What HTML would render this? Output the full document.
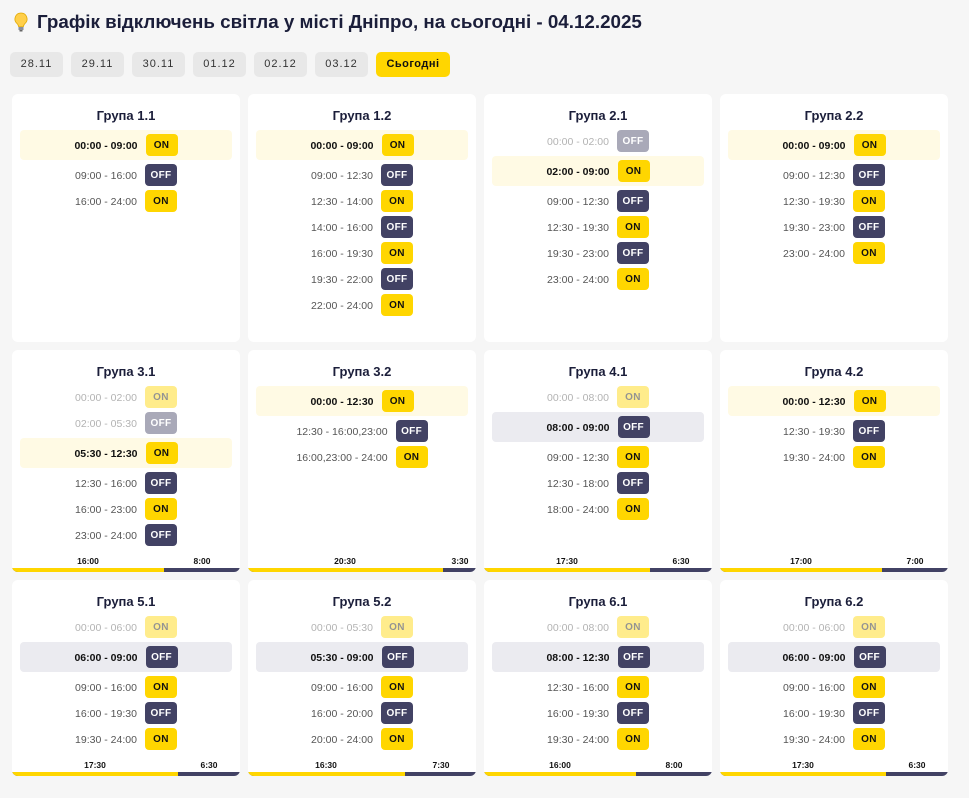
<!DOCTYPE html>
<html><head><meta charset="utf-8">
<style>
*{box-sizing:border-box;margin:0;padding:0}
body{width:969px;height:798px;background:#f6f6f6;font-family:"Liberation Sans",sans-serif;position:relative;overflow:hidden}
h1{position:absolute;left:37px;top:11px;font-size:18.8px;font-weight:bold;color:#1b1e3a;white-space:nowrap}
.bulb{position:absolute;left:14px;top:12px}
.dates{position:absolute;left:10px;top:52px;display:flex;gap:8px}
.dates div{height:25px;line-height:25px;background:#e8e8e8;border-radius:5px;font-size:11px;letter-spacing:1px;color:#333;width:53px;text-align:center}
.dates div.act{background:#ffd600;font-weight:bold;color:#111;width:74px;letter-spacing:.5px}
.card{position:absolute;width:228px;background:#fff;border-radius:6px;overflow:hidden}
.t{position:absolute;top:14px;left:0;right:0;text-align:center;font-size:13px;font-weight:bold;color:#1b1e3a}
.rows{position:absolute;top:34px;left:8px;right:8px}
.r{height:26px;display:flex;align-items:center;justify-content:center;gap:8px;font-size:10.5px;color:#555;padding-top:1px}
.h{height:30px;margin:2px 0;border-radius:4px;background:#fffae4;font-weight:bold;color:#111}
.h.g{background:#ebebf0}
.f{opacity:.45}
.b{width:32px;height:22px;border-radius:4px;display:flex;align-items:center;justify-content:center;font-size:10px;font-weight:bold;letter-spacing:.3px;margin-top:-1px}
.on{background:#ffd600;color:#111}
.off{background:#424264;color:#fff}
.bar{position:absolute;left:0;right:0;bottom:0;height:4px;background:#424264}
.bar i{display:block;height:4px;background:#ffd600}
.lb{position:absolute;bottom:6px;font-size:8.5px;font-weight:bold;color:#111;transform:translateX(-50%)}
</style></head><body>
<svg class="bulb" width="14" height="20" viewBox="0 0 14 20"><path d="M7 1a6 6 0 0 0-4 10.5c1 1 1.5 2 1.5 3h5c0-1 .5-2 1.5-3A6 6 0 0 0 7 1z" fill="#ffcf4a" stroke="#e0a800" stroke-width=".8"/><rect x="4.5" y="15" width="5" height="3" fill="#8a8f9c"/><rect x="5.5" y="18" width="3" height="1.5" fill="#666"/></svg>
<h1>Графік відключень світла у місті Дніпро, на сьогодні - 04.12.2025</h1>
<div class="dates"><div>28.11</div><div>29.11</div><div>30.11</div><div>01.12</div><div>02.12</div><div>03.12</div><div class="act">Сьогодні</div></div>

<div class="card" style="left:12px;top:94px;height:248px"><div class="t">Група 1.1</div><div class="rows">
<div class="r h">00:00 - 09:00<span class="b on">ON</span></div>
<div class="r">09:00 - 16:00<span class="b off">OFF</span></div>
<div class="r">16:00 - 24:00<span class="b on">ON</span></div></div></div>

<div class="card" style="left:248px;top:94px;height:248px"><div class="t">Група 1.2</div><div class="rows">
<div class="r h">00:00 - 09:00<span class="b on">ON</span></div>
<div class="r">09:00 - 12:30<span class="b off">OFF</span></div>
<div class="r">12:30 - 14:00<span class="b on">ON</span></div>
<div class="r">14:00 - 16:00<span class="b off">OFF</span></div>
<div class="r">16:00 - 19:30<span class="b on">ON</span></div>
<div class="r">19:30 - 22:00<span class="b off">OFF</span></div>
<div class="r">22:00 - 24:00<span class="b on">ON</span></div></div></div>

<div class="card" style="left:484px;top:94px;height:248px"><div class="t">Група 2.1</div><div class="rows">
<div class="r f">00:00 - 02:00<span class="b off">OFF</span></div>
<div class="r h">02:00 - 09:00<span class="b on">ON</span></div>
<div class="r">09:00 - 12:30<span class="b off">OFF</span></div>
<div class="r">12:30 - 19:30<span class="b on">ON</span></div>
<div class="r">19:30 - 23:00<span class="b off">OFF</span></div>
<div class="r">23:00 - 24:00<span class="b on">ON</span></div></div></div>

<div class="card" style="left:720px;top:94px;height:248px"><div class="t">Група 2.2</div><div class="rows">
<div class="r h">00:00 - 09:00<span class="b on">ON</span></div>
<div class="r">09:00 - 12:30<span class="b off">OFF</span></div>
<div class="r">12:30 - 19:30<span class="b on">ON</span></div>
<div class="r">19:30 - 23:00<span class="b off">OFF</span></div>
<div class="r">23:00 - 24:00<span class="b on">ON</span></div></div></div>

<div class="card" style="left:12px;top:350px;height:222px"><div class="t">Група 3.1</div><div class="rows">
<div class="r f">00:00 - 02:00<span class="b on">ON</span></div>
<div class="r f">02:00 - 05:30<span class="b off">OFF</span></div>
<div class="r h">05:30 - 12:30<span class="b on">ON</span></div>
<div class="r">12:30 - 16:00<span class="b off">OFF</span></div>
<div class="r">16:00 - 23:00<span class="b on">ON</span></div>
<div class="r">23:00 - 24:00<span class="b off">OFF</span></div></div>
<span class="lb" style="left:76px">16:00</span><span class="lb" style="left:190px">8:00</span><div class="bar"><i style="width:152px"></i></div></div>

<div class="card" style="left:248px;top:350px;height:222px"><div class="t">Група 3.2</div><div class="rows">
<div class="r h">00:00 - 12:30<span class="b on">ON</span></div>
<div class="r">12:30 - 16:00,23:00<span class="b off">OFF</span></div>
<div class="r">16:00,23:00 - 24:00<span class="b on">ON</span></div></div>
<span class="lb" style="left:97px">20:30</span><span class="lb" style="left:212px">3:30</span><div class="bar"><i style="width:195px"></i></div></div>

<div class="card" style="left:484px;top:350px;height:222px"><div class="t">Група 4.1</div><div class="rows">
<div class="r f">00:00 - 08:00<span class="b on">ON</span></div>
<div class="r h g">08:00 - 09:00<span class="b off">OFF</span></div>
<div class="r">09:00 - 12:30<span class="b on">ON</span></div>
<div class="r">12:30 - 18:00<span class="b off">OFF</span></div>
<div class="r">18:00 - 24:00<span class="b on">ON</span></div></div>
<span class="lb" style="left:83px">17:30</span><span class="lb" style="left:197px">6:30</span><div class="bar"><i style="width:166px"></i></div></div>

<div class="card" style="left:720px;top:350px;height:222px"><div class="t">Група 4.2</div><div class="rows">
<div class="r h">00:00 - 12:30<span class="b on">ON</span></div>
<div class="r">12:30 - 19:30<span class="b off">OFF</span></div>
<div class="r">19:30 - 24:00<span class="b on">ON</span></div></div>
<span class="lb" style="left:81px">17:00</span><span class="lb" style="left:195px">7:00</span><div class="bar"><i style="width:162px"></i></div></div>

<div class="card" style="left:12px;top:580px;height:196px"><div class="t">Група 5.1</div><div class="rows">
<div class="r f">00:00 - 06:00<span class="b on">ON</span></div>
<div class="r h g">06:00 - 09:00<span class="b off">OFF</span></div>
<div class="r">09:00 - 16:00<span class="b on">ON</span></div>
<div class="r">16:00 - 19:30<span class="b off">OFF</span></div>
<div class="r">19:30 - 24:00<span class="b on">ON</span></div></div>
<span class="lb" style="left:83px">17:30</span><span class="lb" style="left:197px">6:30</span><div class="bar"><i style="width:166px"></i></div></div>

<div class="card" style="left:248px;top:580px;height:196px"><div class="t">Група 5.2</div><div class="rows">
<div class="r f">00:00 - 05:30<span class="b on">ON</span></div>
<div class="r h g">05:30 - 09:00<span class="b off">OFF</span></div>
<div class="r">09:00 - 16:00<span class="b on">ON</span></div>
<div class="r">16:00 - 20:00<span class="b off">OFF</span></div>
<div class="r">20:00 - 24:00<span class="b on">ON</span></div></div>
<span class="lb" style="left:78px">16:30</span><span class="lb" style="left:193px">7:30</span><div class="bar"><i style="width:157px"></i></div></div>

<div class="card" style="left:484px;top:580px;height:196px"><div class="t">Група 6.1</div><div class="rows">
<div class="r f">00:00 - 08:00<span class="b on">ON</span></div>
<div class="r h g">08:00 - 12:30<span class="b off">OFF</span></div>
<div class="r">12:30 - 16:00<span class="b on">ON</span></div>
<div class="r">16:00 - 19:30<span class="b off">OFF</span></div>
<div class="r">19:30 - 24:00<span class="b on">ON</span></div></div>
<span class="lb" style="left:76px">16:00</span><span class="lb" style="left:190px">8:00</span><div class="bar"><i style="width:152px"></i></div></div>

<div class="card" style="left:720px;top:580px;height:196px"><div class="t">Група 6.2</div><div class="rows">
<div class="r f">00:00 - 06:00<span class="b on">ON</span></div>
<div class="r h g">06:00 - 09:00<span class="b off">OFF</span></div>
<div class="r">09:00 - 16:00<span class="b on">ON</span></div>
<div class="r">16:00 - 19:30<span class="b off">OFF</span></div>
<div class="r">19:30 - 24:00<span class="b on">ON</span></div></div>
<span class="lb" style="left:83px">17:30</span><span class="lb" style="left:197px">6:30</span><div class="bar"><i style="width:166px"></i></div></div>
</body></html>
